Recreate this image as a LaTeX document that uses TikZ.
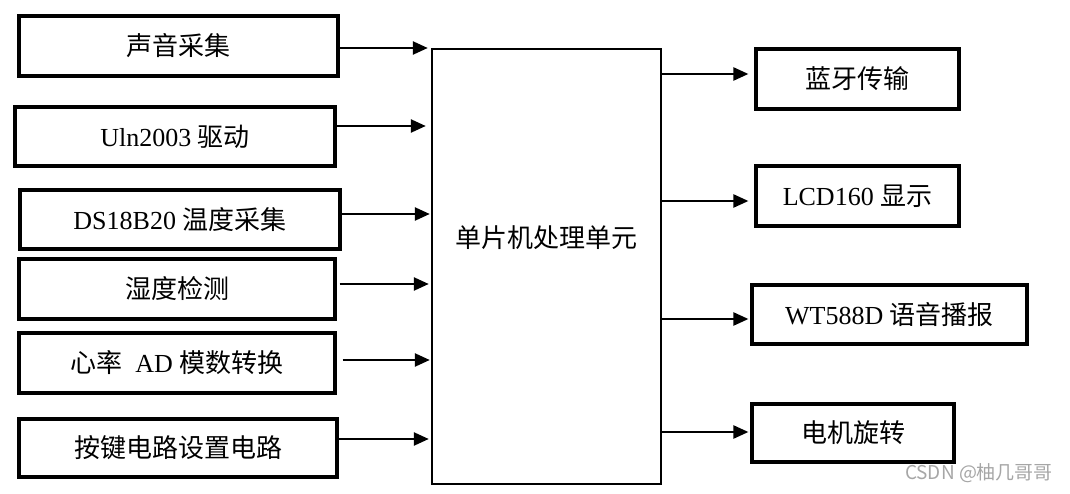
\documentclass[tikz,border=0pt]{standalone}
\usepackage{fontspec}
\setmainfont{Liberation Serif}
\newfontfamily\cjk{Noto Sans CJK SC}
\newcommand{\zh}[1]{{\cjk #1}}
\usetikzlibrary{arrows.meta}

\tikzset{
  box/.style={draw=black, line width=3.2pt, inner sep=0pt, font=\fontsize{26}{31}\selectfont},
  cpubox/.style={draw=black, line width=2.4pt, inner sep=0pt, minimum width=229pt, minimum height=435pt},
  arr/.style={line width=2.4pt, -{Triangle[length=15pt,width=13pt]}},
}

\begin{document}
\begin{tikzpicture}[x=1pt,y=-1pt]
\useasboundingbox (0,0) rectangle (1070,494);
% inputs
\node[box, minimum width=319pt, minimum height=60pt] (sound) at (178.5,46) {\zh{声音采集}};
\node[box, minimum width=320pt, minimum height=59pt] (uln) at (175,136.5) {Uln2003 \zh{驱动}};
\node[box, minimum width=320pt, minimum height=59pt] (temp) at (180,219.5) {DS18B20 \zh{温度采集}};
\node[box, minimum width=316pt, minimum height=60pt] (humid) at (177,289) {\zh{湿度检测}};
\node[box, minimum width=316pt, minimum height=60pt] (heart) at (177,363) {\zh{心率}\ \ AD \zh{模数转换}};
\node[box, minimum width=318pt, minimum height=58pt] (keys) at (178,448) {\zh{按键电路设置电路}};
% mcu
\node[cpubox] (cpu) at (546.5,266.5) {};
\node[font=\fontsize{26}{31}\selectfont] (cputext) at ([yshift=28.5pt]cpu.center) {\zh{单片机处理单元}};
% outputs
\node[box, minimum width=203pt, minimum height=60pt] (bt) at (857.5,79) {\zh{蓝牙传输}};
\node[box, minimum width=203pt, minimum height=60pt] (lcd) at (857.5,196) {LCD160 \zh{显示}};
\node[box, minimum width=275pt, minimum height=59pt] (voice) at (889.5,314.5) {WT588D \zh{语音播报}};
\node[box, minimum width=202pt, minimum height=58pt] (motor) at (853,433) {\zh{电机旋转}};
% arrows in
\draw[arr, shorten >=3pt] ([yshift=-2pt]sound.east) -- ([yshift=-2pt]sound.east -| cpu.west);
\draw[arr, shorten >=5pt] ([yshift=10.5pt]uln.east) -- ([yshift=10.5pt]uln.east -| cpu.west);
\draw[arr, shorten >=1pt] ([yshift=5.5pt]temp.east) -- ([yshift=5.5pt]temp.east -| cpu.west);
\draw[arr, shorten >=2pt] ([yshift=5pt]humid.east) ++(3pt,0) -- ([yshift=5pt]humid.east -| cpu.west);
\draw[arr, shorten >=1pt] ([yshift=3pt]heart.east) ++(6pt,0) -- ([yshift=3pt]heart.east -| cpu.west);
\draw[arr, shorten >=2pt] ([yshift=9pt]keys.east) -- ([yshift=9pt]keys.east -| cpu.west);
% arrows out
\draw[arr, shorten >=6pt] ([yshift=5pt]bt.west -| cpu.east) -- ([yshift=5pt]bt.west);
\draw[arr, shorten >=6pt] ([yshift=-5pt]lcd.west -| cpu.east) -- ([yshift=-5pt]lcd.west);
\draw[arr, shorten >=2pt] ([yshift=-4.5pt]voice.west -| cpu.east) -- ([yshift=-4.5pt]voice.west);
\draw[arr, shorten >=2pt] ([yshift=1pt]motor.west -| cpu.east) -- ([yshift=1pt]motor.west);
% watermark
\node[text=black!35, font=\cjk\fontsize{19}{22}\selectfont] (mark) at (979,473) {CSDN @柚几哥哥};
\end{tikzpicture}
\end{document}
